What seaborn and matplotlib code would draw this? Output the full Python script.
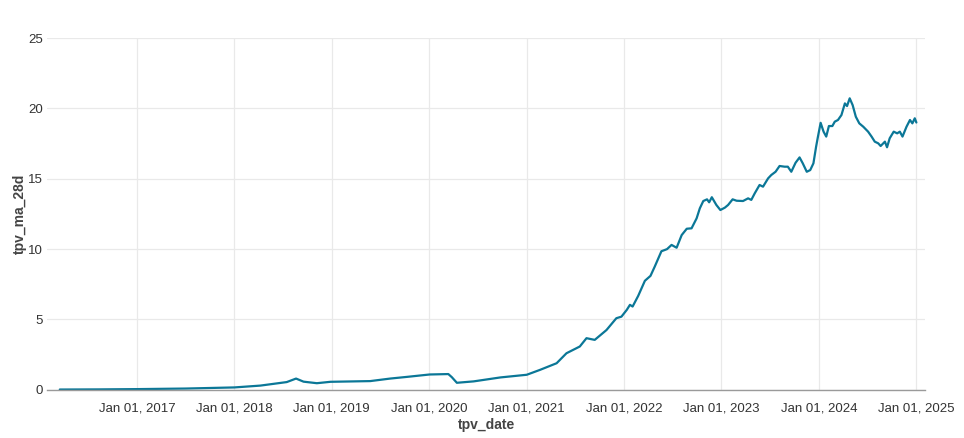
import matplotlib
matplotlib.use("Agg")
import matplotlib.pyplot as plt
import matplotlib.dates as mdates
import seaborn as sns
import pandas as pd

dates = [
    "2016-03-17", "2016-08-09", "2017-01-01", "2017-07-01", "2018-01-01",
    "2018-04-08", "2018-07-16", "2018-08-20", "2018-09-17", "2018-11-06",
    "2018-12-27", "2019-05-25", "2019-08-08", "2019-10-10", "2020-01-03",
    "2020-03-13", "2020-03-26", "2020-04-14", "2020-06-16", "2020-09-24",
    "2021-01-01", "2021-02-20", "2021-04-23", "2021-05-30", "2021-07-19",
    "2021-08-13", "2021-09-13", "2021-10-27", "2021-12-03", "2021-12-22",
    "2022-01-11", "2022-01-23", "2022-02-02", "2022-02-23", "2022-03-20",
    "2022-04-10", "2022-04-26", "2022-05-21", "2022-06-11", "2022-06-28",
    "2022-07-17", "2022-08-05", "2022-08-24", "2022-09-11", "2022-09-30",
    "2022-10-12", "2022-10-25", "2022-11-08", "2022-11-16", "2022-11-26",
    "2022-12-13", "2022-12-28", "2023-01-14", "2023-01-26", "2023-02-12",
    "2023-02-27", "2023-03-23", "2023-04-11", "2023-04-23", "2023-05-06",
    "2023-05-24", "2023-06-06", "2023-06-25", "2023-07-07", "2023-07-23",
    "2023-08-07", "2023-08-26", "2023-09-07", "2023-09-20", "2023-10-06",
    "2023-10-21", "2023-11-02", "2023-11-17", "2023-11-30", "2023-12-12",
    "2023-12-22", "2023-12-28", "2024-01-08", "2024-01-19", "2024-01-29",
    "2024-02-08", "2024-02-21", "2024-03-01", "2024-03-13", "2024-03-26",
    "2024-04-08", "2024-04-16", "2024-04-26", "2024-05-07", "2024-05-19",
    "2024-06-01", "2024-06-16", "2024-07-04", "2024-07-17", "2024-07-29",
    "2024-08-11", "2024-08-20", "2024-09-05", "2024-09-13", "2024-09-23",
    "2024-10-08", "2024-10-21", "2024-10-31", "2024-11-10", "2024-11-25",
    "2024-12-08", "2024-12-17", "2024-12-26", "2025-01-01",
]
tpv_ma_28d = [
    0.02, 0.03, 0.05, 0.09, 0.17,
    0.30, 0.55, 0.80, 0.58, 0.47,
    0.57, 0.62, 0.80, 0.92, 1.09,
    1.12, 0.90, 0.50, 0.60, 0.88,
    1.07, 1.42, 1.89, 2.60, 3.08,
    3.67, 3.55, 4.25, 5.09, 5.20,
    5.68, 6.04, 5.92, 6.68, 7.75,
    8.10, 8.76, 9.85, 10.00, 10.30,
    10.10, 11.00, 11.45, 11.48, 12.19,
    12.90, 13.42, 13.54, 13.33, 13.69,
    13.14, 12.78, 12.95, 13.14, 13.54,
    13.44, 13.42, 13.61, 13.50, 13.97,
    14.56, 14.44, 15.03, 15.27, 15.50,
    15.91, 15.86, 15.86, 15.50, 16.14,
    16.52, 16.10, 15.50, 15.62, 16.10,
    17.28, 17.90, 18.98, 18.35, 18.00,
    18.75, 18.75, 19.06, 19.18, 19.53,
    20.36, 20.17, 20.72, 20.24, 19.41,
    18.94, 18.70, 18.35, 18.00, 17.64,
    17.52, 17.33, 17.64, 17.24, 17.88,
    18.35, 18.23, 18.35, 18.00, 18.70,
    19.18, 18.94, 19.30, 19.00,
]
y_ticks = [0, 5, 10, 15, 20, 25]
x_tick_years = ["2017-01-01", "2018-01-01", "2019-01-01", "2020-01-01",
                "2021-01-01", "2022-01-01", "2023-01-01", "2024-01-01", "2025-01-01"]

df = pd.DataFrame({"tpv_date": pd.to_datetime(dates), "tpv_ma_28d": tpv_ma_28d})

sns.set_theme(style="whitegrid")
plt.rcParams["font.family"] = ["Liberation Sans", "DejaVu Sans"]

fig, ax = plt.subplots(figsize=(9.64, 4.38), dpi=100)
fig.subplots_adjust(left=0.049, right=0.96, top=0.913, bottom=0.11)

sns.lineplot(data=df, x="tpv_date", y="tpv_ma_28d", ax=ax,
             color="#0b7797", linewidth=1.6)

ax.set_xlim(pd.Timestamp("2016-01-30"), pd.Timestamp("2025-02-04"))
ax.set_ylim(0, 25)
ax.set_yticks(y_ticks)
ax.set_xticks(pd.to_datetime(x_tick_years))
ax.xaxis.set_major_formatter(mdates.DateFormatter("%b %d, %Y"))

for s in ["top", "right", "left"]:
    ax.spines[s].set_visible(False)
ax.spines["bottom"].set_color("#9a9a9a")
ax.spines["bottom"].set_linewidth(1.0)
ax.grid(True, color="#e9e9e9", linewidth=0.9)
ax.tick_params(axis="x", labelsize=9.5, colors="#333333", length=0, pad=9)
ax.tick_params(axis="y", labelsize=9.5, colors="#333333", length=0, pad=3)

ax.set_xlabel("tpv_date", fontsize=10, fontweight="bold", color="#444444", labelpad=3)
ax.set_ylabel("tpv_ma_28d", fontsize=10, fontweight="bold", color="#444444", labelpad=1)

fig.savefig("out.png", dpi=100, facecolor="white")
